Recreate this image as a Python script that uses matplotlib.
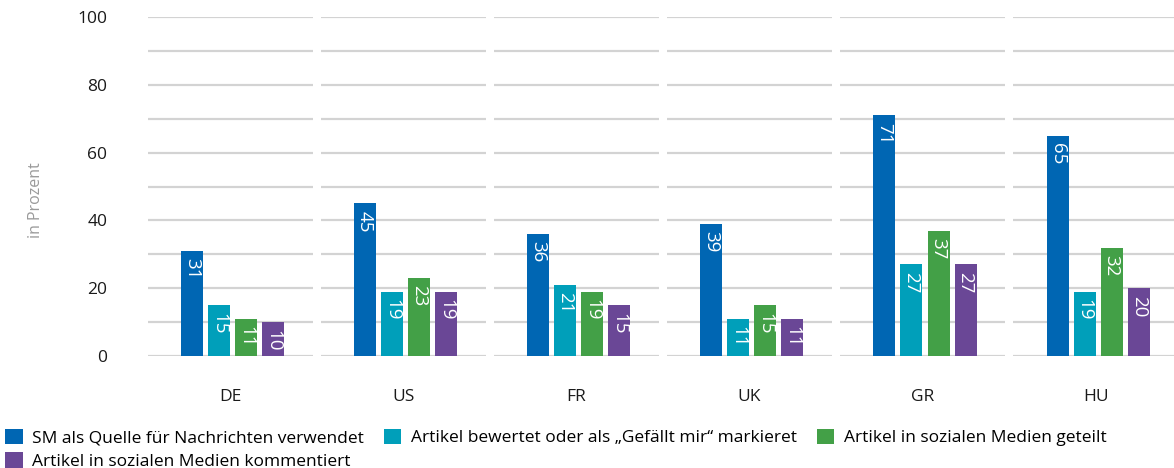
import numpy as np
import matplotlib.pyplot as plt

plt.rcParams['font.family'] = ['Open Sans', 'DejaVu Sans']

# Anteile je Land, in Prozent
countries = ['DE', 'US', 'FR', 'UK', 'GR', 'HU']
series_names = ['SM als Quelle für Nachrichten verwendet',
                'Artikel bewertet oder als „Gefällt mir“ markieret',
                'Artikel in sozialen Medien geteilt',
                'Artikel in sozialen Medien kommentiert']
sm_quelle = [31, 45, 36, 39, 71, 65]
bewertet = [15, 19, 21, 11, 27, 19]
geteilt = [11, 23, 19, 15, 37, 32]
kommentiert = [10, 19, 15, 11, 27, 20]
y_ticks = [0, 20, 40, 60, 80, 100]

colors = ['#0066b3', '#009fba', '#43a047', '#6a4796']
values = [sm_quelle, bewertet, geteilt, kommentiert]

fig = plt.figure(figsize=(11.74, 4.68), dpi=100)
ax = fig.add_axes([143.5 / 1174, 112 / 468, 1039 / 1174, 339 / 468])

x = np.arange(len(countries))
step = 0.156
width = 0.127
shift = 0.013

# segmented grid lines, one block per country
for g in x:
    ax.hlines(np.arange(0, 101, 10), g - 0.476, g + 0.476, color='#d3d3d3', lw=1.6, zorder=1)

bars = []
for i, (vals, col) in enumerate(zip(values, colors)):
    b = ax.bar(x + (i - 1.5) * step + shift, vals, width, color=col, zorder=2, label=series_names[i])
    bars.append(b)
    for xi, v in zip(x, vals):
        ax.text(xi + (i - 1.5) * step + shift, v - 2.2, str(v), rotation=-90, ha='center', va='top',
                color='white', fontsize=13.5, zorder=3)

ax.set_xlim(-0.5, len(countries) - 0.5)
ax.set_ylim(0, 100)
ax.set_yticks(y_ticks)
ax.set_xticks(x)
ax.set_xticklabels(countries)
ax.tick_params(axis='y', length=0, pad=26, labelsize=12.5, labelcolor='#1a1a1a')
ax.tick_params(axis='x', length=0, pad=24, labelsize=12.5, labelcolor='#1a1a1a')
for s in ax.spines.values():
    s.set_visible(False)
ax.set_ylabel('in Prozent', color='#9a9a9a', fontsize=11.5)
ax.yaxis.set_label_coords(-0.096, 0.46)

# column-major fill: first column gets series 1 and 4
order = [0, 3, 1, 2]
leg = fig.legend([bars[k] for k in order], [series_names[k] for k in order], ncol=3,
                 loc='upper left', bbox_to_anchor=(0.0, 0.095), frameon=False, fontsize=12.5,
                 handlelength=1.0, handleheight=1.0, handletextpad=0.55, columnspacing=1.15,
                 labelspacing=0.32, borderaxespad=0, borderpad=0.3)

fig.savefig('out.png', dpi=100)
